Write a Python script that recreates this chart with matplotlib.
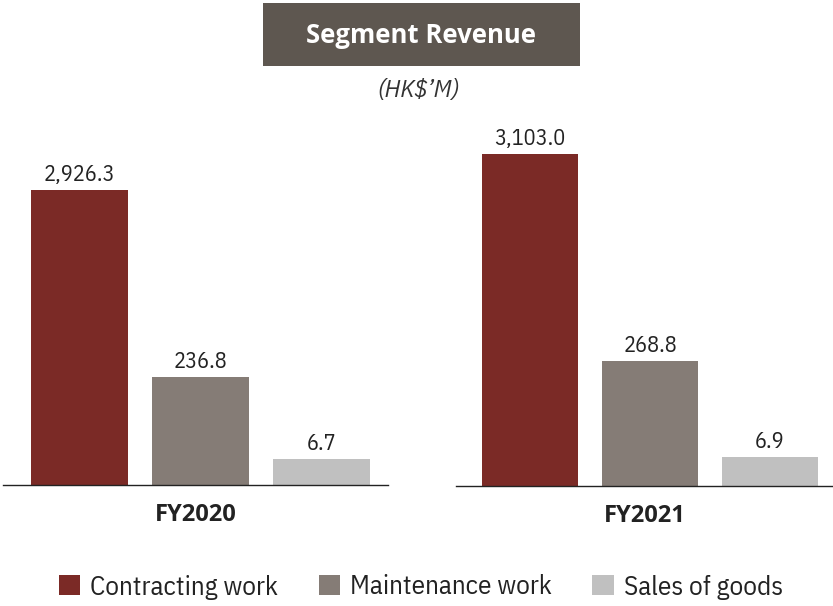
import numpy as np
import matplotlib
matplotlib.use('Agg')
import matplotlib.pyplot as plt
from matplotlib.patches import Rectangle

# data
years = ['FY2020', 'FY2021']
segments = ['Contracting work', 'Maintenance work', 'Sales of goods']
fy2020 = [2926.3, 236.8, 6.7]
fy2021 = [3103.0, 268.8, 6.9]
value_labels = [['2,926.3', '236.8', '6.7'], ['3,103.0', '268.8', '6.9']]

colors = ['#7b2a26', '#857c76', '#c0c0c0']
REG = ['IBM Plex Sans Condensed', 'DejaVu Sans']
BOLD = ['Open Sans', 'DejaVu Sans']
plt.rcParams['font.family'] = REG


# bars are drawn on a compressed (power) scale like the original
def fwd(v):
    return np.clip(v, 0, None) ** 0.4


def inv(v):
    return np.clip(v, 0, None) ** 2.5


W, H = 833, 606
fig = plt.figure(figsize=(W / 100, H / 100), dpi=100)

# axes boxes in pixels: left, right, baseline, top
panels = [
    dict(x0=3, x1=388, base=485, top=110, xlim=(-0.632, 2.55), ymax=5350),
    dict(x0=456, x1=833, base=486, top=110, xlim=(-0.617, 2.525), ymax=4250),
]

bar_sets = []
for i, (year, vals) in enumerate(zip(years, [fy2020, fy2021])):
    p = panels[i]
    ax = fig.add_axes([p['x0'] / W, (H - p['base']) / H,
                       (p['x1'] - p['x0']) / W, (p['base'] - p['top']) / H])
    ax.set_yscale('function', functions=(fwd, inv))
    x = np.arange(len(vals))
    bars = ax.bar(x, vals, width=0.8, color=colors)
    bar_sets.append(bars)
    for b, lab in zip(bars, value_labels[i]):
        ax.annotate(lab, (b.get_x() + b.get_width() / 2, b.get_height()),
                    xytext=(0, 3), textcoords='offset points',
                    ha='center', va='bottom', fontsize=16, color='#222222')
    ax.set_xlim(*p['xlim'])
    ax.set_ylim(0, p['ymax'])
    for s in ['top', 'right', 'left']:
        ax.spines[s].set_visible(False)
    ax.spines['bottom'].set_linewidth(1.0)
    ax.spines['bottom'].set_color('#222222')
    ax.set_xticks([])
    ax.set_yticks([])
    ax.minorticks_off()
    ax.set_xlabel(year, fontsize=17, fontweight='bold', fontstretch='condensed',
                  family=BOLD, color='#222222', labelpad=13)

# title box
fig.patches.append(Rectangle((263 / W, (H - 66) / H), 317 / W, 63 / H,
                             transform=fig.transFigure, facecolor='#5e5750',
                             edgecolor='none'))
fig.text(421.5 / W, (H - 43) / H, 'Segment Revenue', ha='center', va='baseline',
         fontsize=18.5, fontweight='bold', fontstretch='condensed', family=BOLD,
         color='white')
fig.text(418 / W, (H - 97) / H, '(HK$\u2019M)', ha='center', va='baseline',
         fontsize=18, style='italic', color='#333333')

# legend
handles = [bar_sets[0][k] for k in range(3)]
fig.legend(handles, segments, loc='center', bbox_to_anchor=(421 / W, (H - 587) / H),
           ncol=3, frameon=False, fontsize=19.5, handlelength=0.78, handleheight=0.78,
           handletextpad=0.37, columnspacing=1.5, labelcolor='#222222',
           borderaxespad=0, borderpad=0)

fig.savefig('out.png', dpi=100)
